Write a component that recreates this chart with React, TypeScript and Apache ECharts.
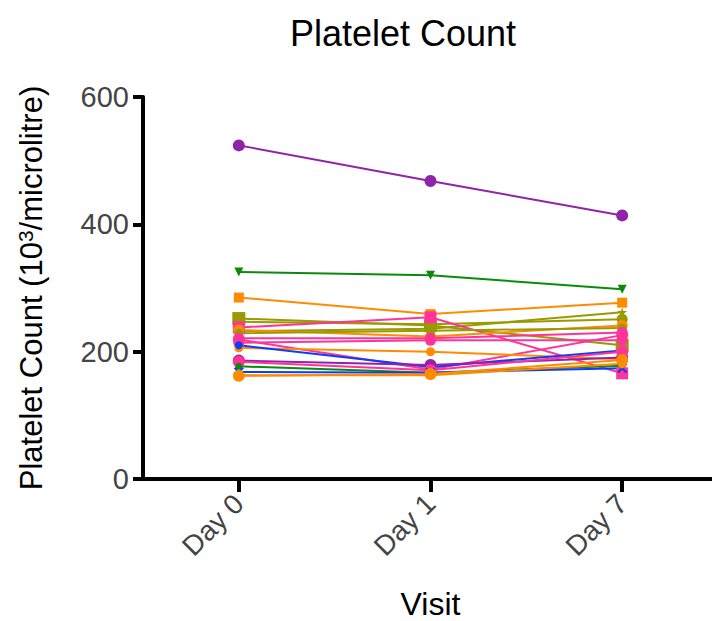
import React, { useEffect, useRef } from "react";
import * as echarts from "echarts";

const visits = ["Day 0", "Day 1", "Day 7"];
const yTicks = [0, 200, 400, 600];

const purpleA = [524, 468, 414];
const greenA = [325, 320, 298];
const orangeA = [285, 259, 277];
const oliveA = [252, 241, 210];
const oliveB = [247, 243, 251];
const oliveStar = [232, 236, 262];
const pinkA = [238, 254, 166];
const orangeB = [234, 224, 241];
const oliveC = [229, 233, 237];
const pinkB = [221, 221, 230];
const pinkC = [219, 172, 226];
const pinkD = [214, 218, 218];
const orangeC = [206, 200, 188];
const blueA = [210, 176, 202];
const purpleB = [186, 179, 191];
const pinkE = [184, 171, 200];
const greenB = [177, 167, 178];
const blueX = [168, 167, 174];
const orangeD = [162, 165, 187];
const orangeE = [163, 163, 181];

const C = {
  purple: "#8E24AA",
  green: "#0A8C0A",
  orange: "#FF8C00",
  olive: "#999900",
  pink: "#FF3399",
  blue: "#0A3CFF",
};

const STAR =
  "path://M50,0 L61,35 L98,35 L68,57 L79,91 L50,70 L21,91 L32,57 L2,35 L39,35 Z";
const CROSS =
  "path://M15,0 L50,35 L85,0 L100,15 L65,50 L100,85 L85,100 L50,65 L15,100 L0,85 L35,50 L0,15 Z";

const seriesDefs: [string, number[], string, string, number, number?][] = [
  ["S1", purpleA, C.purple, "circle", 12],
  ["S2", greenA, C.green, "triangle", 9, 180],
  ["S3", orangeA, C.orange, "rect", 10],
  ["S4", oliveA, C.olive, "rect", 13],
  ["S5", oliveB, C.olive, "circle", 11],
  ["S6", oliveStar, C.olive, STAR, 10],
  ["S7", pinkA, C.pink, "rect", 12],
  ["S8", orangeB, C.orange, "circle", 11],
  ["S9", oliveC, C.olive, "circle", 9],
  ["S10", pinkB, C.pink, "circle", 11],
  ["S11", pinkC, C.pink, "circle", 12],
  ["S12", pinkD, C.pink, "circle", 11],
  ["S13", orangeC, C.orange, "circle", 9],
  ["S14", blueA, C.blue, "circle", 8],
  ["S15", purpleB, C.purple, "circle", 12],
  ["S16", pinkE, C.pink, "circle", 12],
  ["S17", greenB, C.green, "circle", 7],
  ["S18", blueX, C.blue, CROSS, 10],
  ["S19", orangeD, C.orange, "circle", 12],
  ["S20", orangeE, C.orange, "circle", 9],
];

export default function App() {
  const ref = useRef<HTMLDivElement>(null);
  useEffect(() => {
    if (!ref.current) return;
    const chart = echarts.init(ref.current, undefined, { renderer: "svg" });
    const font = "Liberation Sans, Arial, Helvetica, sans-serif";
    chart.setOption({
      animation: false,
      backgroundColor: "#ffffff",
      textStyle: { fontFamily: font },
      title: {
        text: "Platelet Count",
        left: 398,
        top: 10,
        textAlign: "center",
        textStyle: { fontSize: 36, fontWeight: "normal", color: "#000", fontFamily: font },
      },
      grid: {
        left: 143,
        width: 575,
        top: 97,
        height: 382,
        containLabel: false,
        outerBoundsMode: "none",
      },
      xAxis: {
        type: "category",
        data: visits,
        boundaryGap: true,
        name: "Visit",
        nameLocation: "middle",
        nameGap: 110,
        nameTextStyle: { fontSize: 32, lineHeight: 30, color: "#000", fontFamily: font },
        axisLine: { show: true, lineStyle: { color: "#000", width: 4 } },
        axisTick: { show: true, alignWithLabel: true, length: 13, lineStyle: { color: "#000", width: 4 } },
        axisLabel: { rotate: 45, fontSize: 28, color: "#444", margin: 20, fontFamily: font },
        splitLine: { show: false },
      },
      yAxis: {
        type: "value",
        min: yTicks[0],
        max: yTicks[yTicks.length - 1],
        interval: 200,
        name: "Platelet Count (10{sup|3}/microlitre)",
        nameLocation: "middle",
        nameGap: 95,
        nameTextStyle: {
          fontSize: 31,
          color: "#000",
          fontFamily: font,
          rich: {
            sup: { fontSize: 21, color: "#000", fontFamily: font, verticalAlign: "top", padding: [0, 0, 12, 0] },
          },
        },
        axisLine: { show: true, lineStyle: { color: "#000", width: 4 } },
        axisTick: { show: true, length: 10, lineStyle: { color: "#000", width: 4 } },
        axisLabel: { fontSize: 29, color: "#444", margin: 14, fontFamily: font },
        splitLine: { show: false },
      },
      series: seriesDefs.map(([name, data, color, symbol, size, rot]) => ({
        name,
        type: "line",
        data,
        symbol,
        symbolSize: size,
        symbolRotate: rot || 0,
        showSymbol: true,
        lineStyle: { color, width: 2 },
        itemStyle: { color, borderWidth: 0 },
        emphasis: { disabled: true },
        z: 3,
      })),
    });
    return () => chart.dispose();
  }, []);
  return (
    <div
      ref={ref}
      style={{ position: "fixed", left: 0, top: 0, width: 712, height: 621, background: "#fff" }}
    />
  );
}
